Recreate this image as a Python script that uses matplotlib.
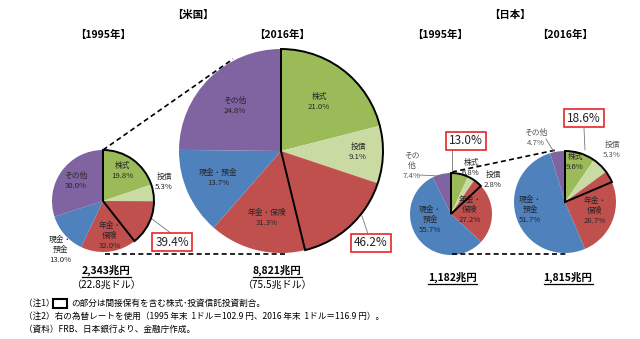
import matplotlib.pyplot as plt
from matplotlib.patches import Wedge, Rectangle

plt.rcParams['font.family'] = ['Noto Sans CJK JP', 'DejaVu Sans']

H = 339  # figure height in pixels; drawing uses top-down pixel coordinates

categories = ['株式', '投信', '年金・保険', '現金・預金', 'その他']
colors = ['#9BBB59', '#C9DBA3', '#C0504D', '#4F81BD', '#8064A2']

us_1995 = [19.8, 5.3, 32.0, 13.0, 30.0]
us_2016 = [21.0, 9.1, 31.3, 13.7, 24.8]
jp_1995 = [6.8, 2.8, 27.2, 55.7, 7.4]
jp_2016 = [9.6, 5.3, 28.7, 51.7, 4.7]

# share of equities + investment trusts incl. indirect holdings
us_share = [39.4, 46.2]
jp_share = [13.0, 18.6]

totals = ['2,343兆円', '8,821兆円', '1,182兆円', '1,815兆円']
totals_usd = ['（22.8兆ドル）', '（75.5兆ドル）']

fig = plt.figure(figsize=(6.4, 3.39), dpi=100)
ax = fig.add_axes([0, 0, 1, 1])


def Y(y):
    return H - y


def draw_pie(values, cx, cy, r, share):
    ax.pie(values, colors=colors, startangle=90, counterclock=False,
           center=(cx, Y(cy)), radius=r, normalize=True,
           wedgeprops=dict(linewidth=0))
    ax.add_patch(Wedge((cx, Y(cy)), r, 90 - 360 * share / 100, 90,
                       fill=False, edgecolor='black', linewidth=1.4,
                       zorder=5))


def txt(x, y, s, size=5.6, **kw):
    ax.text(x, Y(y), s, fontsize=size, ha='center', va='center',
            color=kw.pop('color', '#262626'), **kw)


def boxed(x, y, s):
    ax.text(x, Y(y), s, fontsize=8.5, ha='center', va='center',
            color='#222222',
            bbox=dict(boxstyle='square,pad=0.25', fc='white',
                      ec='#E8262A', lw=1.2), zorder=6)


def leader(x0, y0, x1, y1):
    ax.plot([x0, x1], [Y(y0), Y(y1)], color='#777777', lw=0.6, zorder=4)


def dashed(x0, y0, x1, y1):
    ax.plot([x0, x1], [Y(y0), Y(y1)], color='black', lw=1.2,
            ls=(0, (3, 2)), zorder=3)


# pies
draw_pie(us_1995, 103, 201, 51, us_share[0])
draw_pie(us_2016, 281, 151, 102, us_share[1])
draw_pie(jp_1995, 451, 214, 41, jp_share[0])
draw_pie(jp_2016, 565, 202, 51, jp_share[1])

# connecting dashed lines
dashed(103, 150, 233, 59)
dashed(105, 254, 287, 254)
dashed(452, 172, 556, 150)
dashed(452, 254, 566, 254)

# titles
txt(193, 15, '【米国】', size=7.5, weight='bold', color='black')
txt(510, 15, '【日本】', size=7.5, weight='bold', color='black')
for x, s in [(103, '【1995年】'), (282, '【2016年】'),
             (440, '【1995年】'), (565, '【2016年】')]:
    txt(x, 35, s, size=7.5, weight='bold', color='black')

# US 1995 labels
txt(122, 171, f'{categories[0]}\n{us_1995[0]}%', linespacing=1.4)
txt(164, 182, f'{categories[1]}\n{us_1995[1]}%', linespacing=1.4)
txt(110, 236, f'年金・\n保険\n{us_1995[2]}%', linespacing=1.4)
txt(60, 250, f'現金・\n預金\n{us_1995[3]}%', linespacing=1.4)
txt(76, 181, f'{categories[4]}\n{us_1995[4]}%', linespacing=1.4)

# US 2016 labels
txt(319, 102, f'{categories[0]}\n{us_2016[0]}%', linespacing=1.4)
txt(358, 152, f'{categories[1]}\n{us_2016[1]}%', linespacing=1.4)
txt(267, 218, f'{categories[2]}\n{us_2016[2]}%', linespacing=1.4)
txt(218, 178, f'{categories[3]}\n{us_2016[3]}%', linespacing=1.4)
txt(235, 106, f'{categories[4]}\n{us_2016[4]}%', linespacing=1.4)

# Japan 1995 labels
txt(471, 168, f'{categories[0]}\n{jp_1995[0]}%', linespacing=1.3)
txt(493, 180, f'{categories[1]}\n{jp_1995[1]}%', linespacing=1.3)
txt(470, 210, f'年金・\n保険\n{jp_1995[2]}%', linespacing=1.3)
txt(430, 220, f'現金・\n預金\n{jp_1995[3]}%', linespacing=1.3)
txt(412, 166, f'その\n他\n{jp_1995[4]}%', linespacing=1.3, color='#555555')
leader(419, 175, 440, 176)

# Japan 2016 labels
txt(575, 162, f'{categories[0]}\n{jp_2016[0]}%', linespacing=1.4)
txt(612, 150, f'{categories[1]}\n{jp_2016[1]}%', linespacing=1.4, color='#555555')
txt(595, 211, f'年金・\n保険\n{jp_2016[2]}%', linespacing=1.3)
txt(530, 210, f'現金・\n預金\n{jp_2016[3]}%', linespacing=1.3)
txt(536, 138, f'{categories[4]}\n{jp_2016[4]}%', linespacing=1.4, color='#555555')
leader(546, 139, 554, 152)

# boxed shares with leaders
leader(152, 219, 172, 234)
boxed(172, 242, f'{us_share[0]}%')
leader(362, 216, 368, 234)
boxed(371, 243, f'{us_share[1]}%')
leader(452, 150, 452, 172)
boxed(466, 141, f'{jp_share[0]}%')
leader(584, 128, 585, 150)
boxed(584, 118, f'{jp_share[1]}%')

# totals (underlined)
for x, y, s in [(106, 270, totals[0]), (277, 270, totals[1]),
                (452, 277, totals[2]), (568, 277, totals[3])]:
    ax.text(x, Y(y), s, fontsize=7.5, weight='bold', ha='center',
            va='center', color='black')
    ax.plot([x - 24.5, x + 24.5], [Y(y + 7), Y(y + 7)], color='black', lw=0.9)
txt(106, 285, totals_usd[0], size=7.2, color='black')
txt(277, 285, totals_usd[1], size=7.2, color='black')

# notes
note_kw = dict(fontsize=6.2, ha='left', va='center', color='black')
ax.text(24, Y(303), '（注1）', **note_kw)
ax.add_patch(Rectangle((53, Y(308)), 14, 9, fill=False, ec='black', lw=1.5))
ax.text(71, Y(303), 'の部分は間接保有を含む株式･投資信託投資割合。', **note_kw)
ax.text(24, Y(316), '（注2）右の為替レートを使用（1995 年末  1ドル＝102.9 円、'
        '2016 年末  1ドル＝116.9 円）。', **note_kw)
ax.text(24, Y(329), '（資料）FRB、日本銀行より、金融庁作成。', **note_kw)

ax.set_xlim(0, 640)
ax.set_ylim(0, H)
ax.set_aspect('auto')
ax.axis('off')

fig.savefig('out.png', dpi=100)
